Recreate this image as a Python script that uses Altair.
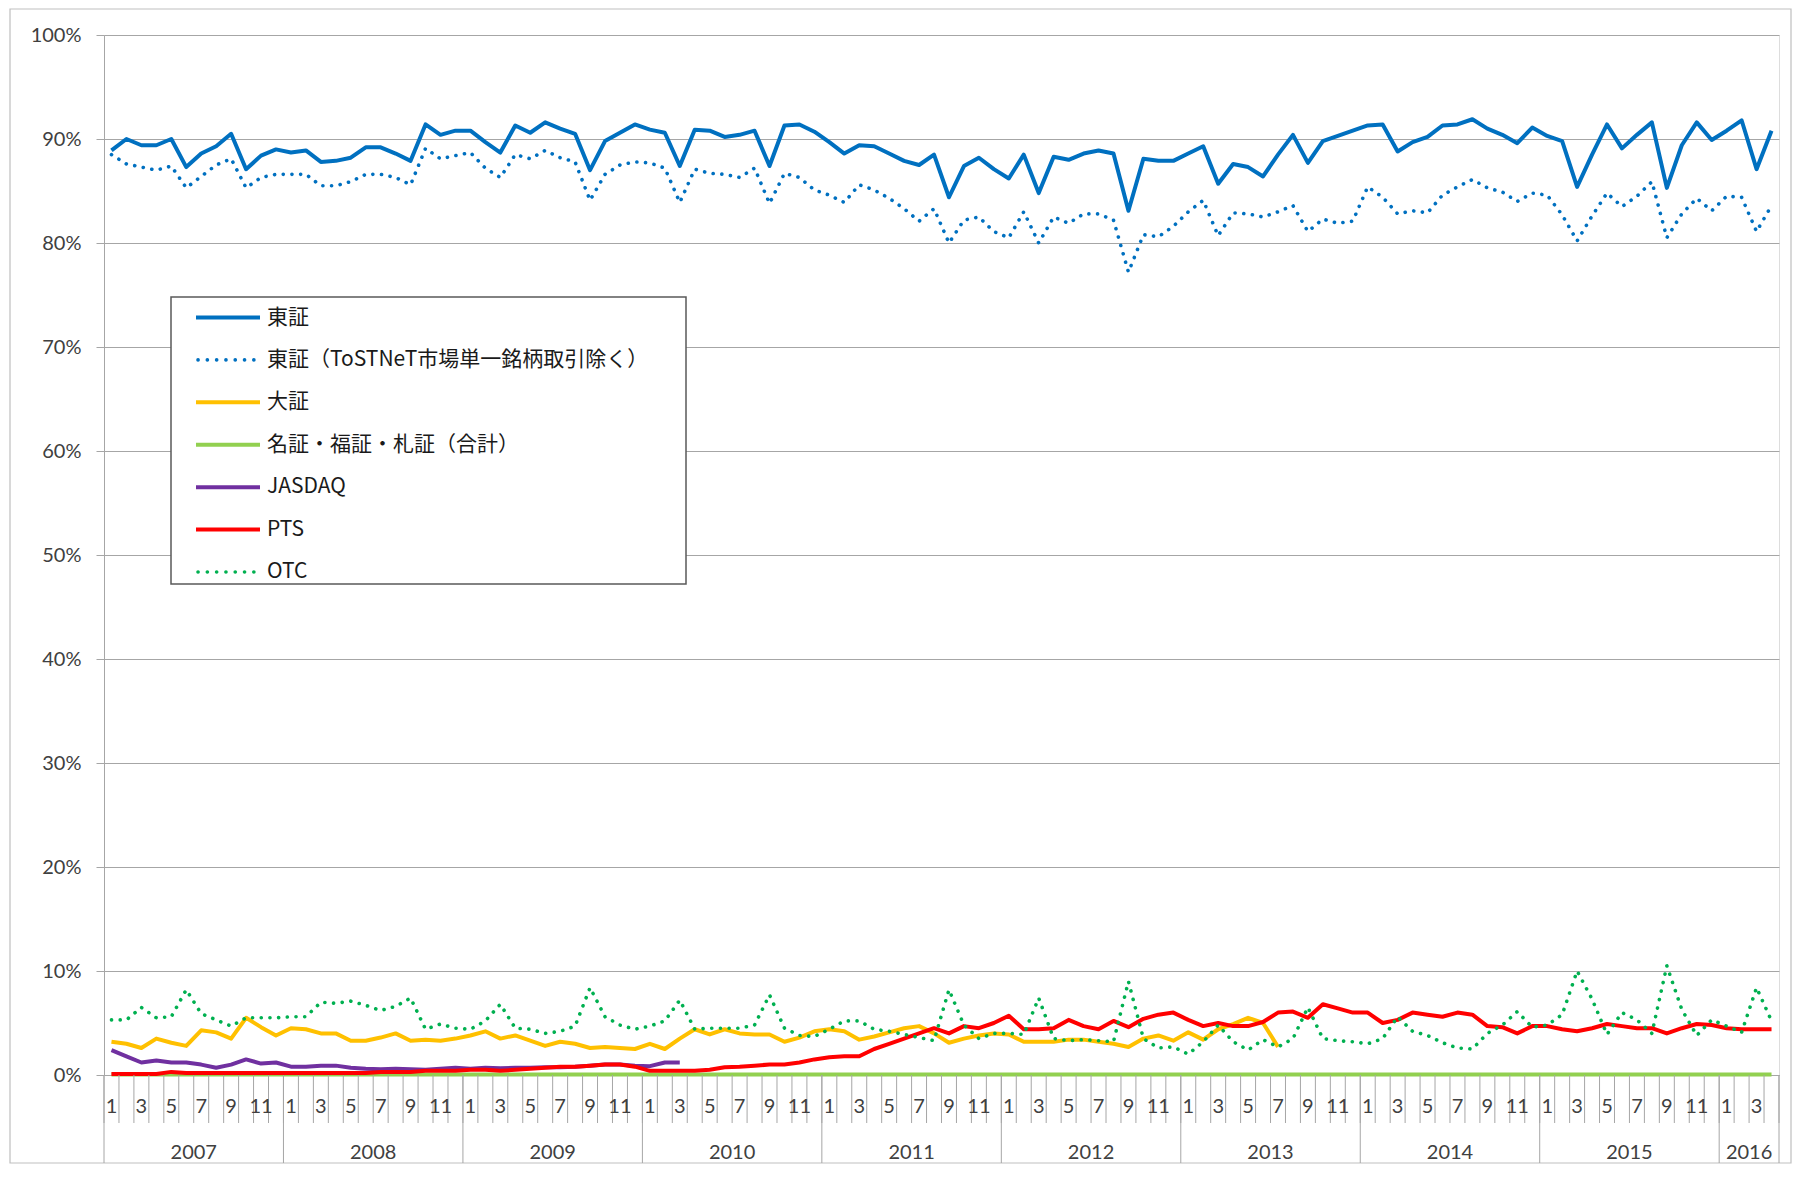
import altair as alt
import pandas as pd

# ---------------- data ----------------
years = [2007, 2008, 2009, 2010, 2011, 2012, 2013, 2014, 2015, 2016]
months_per_year = [12, 12, 12, 12, 12, 12, 12, 12, 12, 4]

series_names = [
    "東証",
    "東証（ToSTNeT市場単一銘柄取引除く）",
    "大証",
    "名証・福証・札証（合計）",
    "JASDAQ",
    "PTS",
    "OTC",
]
series_colors = ["#0070C0", "#0070C0", "#FFC000", "#92D050", "#7030A0", "#FF0000", "#00B050"]
dotted_series = ["東証（ToSTNeT市場単一銘柄取引除く）", "OTC"]

tse = [
    88.9, 90.0, 89.4, 89.4, 90.0, 87.3, 88.6, 89.3, 90.5, 87.1, 88.4, 89.0,
    88.7, 88.9, 87.8, 87.9, 88.2, 89.2, 89.2, 88.6, 87.9, 91.4, 90.4, 90.8,
    90.8, 89.7, 88.7, 91.3, 90.6, 91.6, 91.0, 90.5, 87.0, 89.8, 90.6, 91.4,
    90.9, 90.6, 87.4, 90.9, 90.8, 90.2, 90.4, 90.8, 87.4, 91.3, 91.4, 90.7,
    89.7, 88.6, 89.4, 89.3, 88.6, 87.9, 87.5, 88.5, 84.4, 87.4, 88.2, 87.1,
    86.2, 88.5, 84.8, 88.3, 88.0, 88.6, 88.9, 88.6, 83.1, 88.1, 87.9, 87.9,
    88.6, 89.3, 85.7, 87.6, 87.3, 86.4, 88.5, 90.4, 87.7, 89.8, 90.3, 90.8,
    91.3, 91.4, 88.8, 89.7, 90.2, 91.3, 91.4, 91.9, 91.0, 90.4, 89.6, 91.1,
    90.3, 89.8, 85.4, 88.5, 91.4, 89.1, 90.4, 91.6, 85.3, 89.4, 91.6, 89.9,
    90.8, 91.8, 87.1, 90.8,
]
tse_ex = [
    88.5, 87.6, 87.3, 87.0, 87.4, 85.3, 86.4, 87.5, 88.1, 85.3, 86.3, 86.6,
    86.6, 86.6, 85.5, 85.5, 85.9, 86.6, 86.6, 86.3, 85.6, 89.1, 88.1, 88.4,
    88.7, 87.2, 86.3, 88.5, 88.1, 88.9, 88.2, 87.8, 84.1, 86.6, 87.5, 87.8,
    87.7, 87.2, 83.9, 87.1, 86.7, 86.6, 86.3, 87.2, 83.8, 86.7, 86.3, 85.1,
    84.6, 83.9, 85.6, 85.1, 84.3, 83.3, 82.1, 83.3, 80.0, 82.2, 82.5, 81.1,
    80.5, 83.0, 80.0, 82.5, 81.9, 82.8, 82.8, 82.2, 77.2, 80.8, 80.6, 81.6,
    83.0, 84.1, 80.7, 82.9, 82.8, 82.5, 83.0, 83.6, 81.1, 82.3, 81.9, 82.1,
    85.4, 84.4, 82.8, 83.1, 82.9, 84.6, 85.4, 86.1, 85.3, 84.9, 84.0, 84.8,
    84.6, 82.7, 80.2, 82.6, 84.8, 83.5, 84.5, 85.9, 80.5, 82.8, 84.3, 83.1,
    84.5, 84.4, 81.1, 83.6,
]
ose = [
    3.2, 3.0, 2.6, 3.5, 3.1, 2.8, 4.3, 4.1, 3.5, 5.5, 4.6, 3.8,
    4.5, 4.4, 4.0, 4.0, 3.3, 3.3, 3.6, 4.0, 3.3, 3.4, 3.3, 3.5,
    3.8, 4.2, 3.5, 3.8, 3.3, 2.8, 3.2, 3.0, 2.6, 2.7, 2.6, 2.5,
    3.0, 2.5, 3.5, 4.4, 3.9, 4.4, 4.0, 3.9, 3.9, 3.2, 3.6, 4.2,
    4.4, 4.2, 3.4, 3.7, 4.1, 4.5, 4.7, 4.0, 3.1, 3.5, 3.8, 4.0,
    3.9, 3.2, 3.2, 3.2, 3.4, 3.4, 3.2, 3.0, 2.7, 3.5, 3.8, 3.3,
    4.1, 3.4, 4.4, 4.9, 5.5, 5.0, 2.7,
]
regional = [
    0.05, 0.05, 0.05, 0.05, 0.05, 0.05, 0.05, 0.05, 0.05, 0.05, 0.05, 0.05,
    0.05, 0.05, 0.05, 0.05, 0.05, 0.05, 0.05, 0.05, 0.05, 0.05, 0.05, 0.05,
    0.05, 0.05, 0.05, 0.05, 0.05, 0.05, 0.05, 0.05, 0.05, 0.05, 0.05, 0.05,
    0.05, 0.05, 0.05, 0.05, 0.05, 0.05, 0.05, 0.05, 0.05, 0.05, 0.05, 0.05,
    0.05, 0.05, 0.05, 0.05, 0.05, 0.05, 0.05, 0.05, 0.05, 0.05, 0.05, 0.05,
    0.05, 0.05, 0.05, 0.05, 0.05, 0.05, 0.05, 0.05, 0.05, 0.05, 0.05, 0.05,
    0.05, 0.05, 0.05, 0.05, 0.05, 0.05, 0.05, 0.05, 0.05, 0.05, 0.05, 0.05,
    0.05, 0.05, 0.05, 0.05, 0.05, 0.05, 0.05, 0.05, 0.05, 0.05, 0.05, 0.05,
    0.05, 0.05, 0.05, 0.05, 0.05, 0.05, 0.05, 0.05, 0.05, 0.05, 0.05, 0.05,
    0.05, 0.05, 0.05, 0.05,
]
jasdaq = [
    2.4, 1.8, 1.2, 1.4, 1.2, 1.2, 1.0, 0.7, 1.0, 1.5, 1.1, 1.2,
    0.8, 0.8, 0.9, 0.9, 0.7, 0.6, 0.55, 0.6, 0.55, 0.5, 0.6, 0.7,
    0.6, 0.7, 0.65, 0.7, 0.7, 0.75, 0.75, 0.8, 0.9, 1.0, 1.0, 0.9,
    0.85, 1.2, 1.2,
]
pts = [
    0.1, 0.1, 0.1, 0.1, 0.3, 0.2, 0.2, 0.2, 0.2, 0.2, 0.2, 0.2,
    0.2, 0.2, 0.2, 0.2, 0.2, 0.2, 0.3, 0.3, 0.3, 0.4, 0.4, 0.4,
    0.5, 0.5, 0.4, 0.5, 0.6, 0.7, 0.8, 0.8, 0.9, 1.0, 1.0, 0.8,
    0.4, 0.4, 0.4, 0.4, 0.5, 0.75, 0.8, 0.9, 1.0, 1.0, 1.2, 1.5,
    1.7, 1.8, 1.8, 2.5, 3.0, 3.5, 4.0, 4.5, 4.0, 4.7, 4.5, 5.0,
    5.7, 4.4, 4.4, 4.5, 5.3, 4.7, 4.4, 5.2, 4.6, 5.4, 5.8, 6.0,
    5.3, 4.7, 5.0, 4.7, 4.7, 5.1, 6.0, 6.1, 5.5, 6.8, 6.4, 6.0,
    6.0, 5.0, 5.3, 6.0, 5.8, 5.6, 6.0, 5.8, 4.7, 4.6, 4.0, 4.7,
    4.7, 4.4, 4.2, 4.5, 4.9, 4.7, 4.5, 4.5, 4.0, 4.5, 4.9, 4.8,
    4.5, 4.4, 4.4, 4.4,
]
otc = [
    5.3, 5.3, 6.5, 5.5, 5.6, 8.2, 5.9, 5.3, 4.7, 5.5, 5.5, 5.5,
    5.6, 5.6, 7.0, 6.9, 7.1, 6.7, 6.2, 6.6, 7.4, 4.4, 4.9, 4.5,
    4.4, 5.2, 6.8, 4.5, 4.4, 4.0, 4.2, 4.7, 8.4, 5.6, 4.8, 4.4,
    4.7, 5.2, 7.2, 4.4, 4.5, 4.5, 4.5, 4.8, 7.7, 4.5, 3.8, 3.7,
    4.4, 5.2, 5.2, 4.4, 4.2, 3.9, 3.6, 3.3, 8.2, 4.8, 3.5, 4.0,
    4.0, 3.9, 7.4, 3.5, 3.3, 3.4, 3.3, 3.2, 9.0, 3.5, 2.6, 2.7,
    2.0, 3.2, 4.8, 3.2, 2.4, 3.4, 2.7, 3.5, 6.5, 3.5, 3.3, 3.2,
    3.0, 3.5, 5.6, 4.2, 3.8, 3.1, 2.6, 2.5, 4.0, 4.8, 6.1, 4.6,
    4.8, 5.8, 10.0, 7.3, 3.9, 6.0, 5.3, 4.0, 10.5, 6.3, 3.8, 5.3,
    4.7, 4.1, 8.4, 5.2,
]
series_values = [tse, tse_ex, ose, regional, jasdaq, pts, otc]

# ---------------- tables ----------------
cats = []  # (year, month) for each category
for y, n in zip(years, months_per_year):
    for m in range(1, n + 1):
        cats.append((y, m))
n_cats = len(cats)

rows = []
for name, vals in zip(series_names, series_values):
    for i, v in enumerate(vals):
        rows.append({"pos": i + 0.5, "series": name, "value": v})
df = pd.DataFrame(rows)

month_lab = pd.DataFrame(
    [{"pos": i + 0.5, "label": str(m)} for i, (y, m) in enumerate(cats) if m % 2 == 1]
)
bounds = pd.DataFrame({"b": list(range(n_cats + 1))})
year_starts = []
s = 0
for n in months_per_year:
    year_starts.append(s)
    s += n
year_bounds = pd.DataFrame({"b": year_starts + [n_cats]})
year_lab = pd.DataFrame(
    {"pos": [st + n / 2 for st, n in zip(year_starts, months_per_year)],
     "label": [str(y) for y in years]}
)
legend_df = pd.DataFrame({"series": series_names})
one = pd.DataFrame({"k": [0]})

# ---------------- styles ----------------
W, H = 1675, 1040
GRAY = "#A6A6A6"
TXT = "#404040"
cscale = alt.Scale(domain=series_names, range=series_colors)
xscale = alt.Scale(domain=[0, n_cats], nice=False, zero=False)
yscale = alt.Scale(domain=[0, 100], nice=False)
xaxis = alt.Axis(labels=False, ticks=False, grid=False, domain=True,
                 domainColor=GRAY, title=None)
yaxis = alt.Axis(values=list(range(0, 101, 10)), labelExpr="datum.value + '%'",
                 grid=True, gridColor=GRAY, gridWidth=1, tickSize=8,
                 tickColor=GRAY, domainColor=GRAY, labelFont="Lato",
                 labelFontSize=20, labelColor=TXT, labelPadding=15, title=None)


def X(field):
    return alt.X(field, scale=xscale, axis=xaxis)


def Y():
    return alt.Y("value:Q", scale=yscale, axis=yaxis)


# border of the whole chart (decoration, no fill so axes stay visible)
border = alt.Chart(one).mark_rect(fill="transparent", stroke="#BFBFBF", strokeWidth=1.2).encode(
    x=alt.value(-94), x2=alt.value(1687), y=alt.value(-26), y2=alt.value(1128)
)

line_layers = []
for name in series_names:
    if name in dotted_series:
        mk = alt.Chart(df).mark_line(strokeWidth=3.6, strokeDash=[0.1, 8.6],
                                     strokeCap="round", strokeJoin="round")
    else:
        mk = alt.Chart(df).mark_line(strokeWidth=4, strokeJoin="round")
    line_layers.append(
        mk.transform_filter(alt.FieldEqualPredicate(field="series", equal=name)).encode(
            x=X("pos:Q"), y=Y(),
            color=alt.Color("series:N", scale=cscale, legend=None),
        )
    )

ticks = alt.Chart(bounds).mark_rule(color=GRAY, strokeWidth=1).encode(
    x=X("b:Q"), y=alt.value(H), y2=alt.value(H + 48)
)
year_ticks = alt.Chart(year_bounds).mark_rule(color=GRAY, strokeWidth=1).encode(
    x=X("b:Q"), y=alt.value(H), y2=alt.value(H + 88)
)
mtext = alt.Chart(month_lab).mark_text(font="Lato", fontSize=20, color=TXT,
                                        baseline="middle").encode(
    x=X("pos:Q"), y=alt.value(H + 32), text="label:N"
)
ytext = alt.Chart(year_lab).mark_text(font="Lato", fontSize=20, color=TXT,
                                       baseline="middle").encode(
    x=X("pos:Q"), y=alt.value(H + 78), text="label:N"
)

main = alt.layer(border, *line_layers, ticks, year_ticks, mtext, ytext)

# ---------------- legend ----------------
ly = alt.Y("series:N", sort=series_names, axis=None,
           scale=alt.Scale(type="point", range=[282.5, 537], padding=0))
box = alt.Chart(one).mark_rect(fill="white", stroke="#595959", strokeWidth=1.5).encode(
    x=alt.value(67), x2=alt.value(582), y=alt.value(262), y2=alt.value(549)
)
leg_solid = alt.Chart(legend_df).transform_filter(
    alt.FieldOneOfPredicate(field="series", oneOf=[s for s in series_names if s not in dotted_series])
).mark_rule(strokeWidth=4).encode(
    y=ly, x=alt.value(92), x2=alt.value(156),
    color=alt.Color("series:N", scale=cscale, legend=None),
)
leg_dot = alt.Chart(legend_df).transform_filter(
    alt.FieldOneOfPredicate(field="series", oneOf=dotted_series)
).mark_rule(strokeWidth=3.6, strokeDash=[0.1, 9.2], strokeCap="round").encode(
    y=ly, x=alt.value(94), x2=alt.value(156),
    color=alt.Color("series:N", scale=cscale, legend=None),
)
leg_text = alt.Chart(legend_df).mark_text(font="Noto Sans CJK JP", fontSize=21,
                                           color="#1a1a1a", align="left",
                                           baseline="middle").encode(
    y=ly, x=alt.value(163), text="series:N"
)
legend = alt.layer(box, leg_solid, leg_dot, leg_text)

chart = alt.layer(main, legend).resolve_scale(y="independent").properties(
    width=W, height=H,
    padding={"left": 96, "top": 27, "right": 14, "bottom": 90},
    autosize=alt.AutoSizeParams(type="none"),
).configure_view(stroke=None).configure(background="white")

chart.save("out.html", embed_options={"renderer": "svg", "actions": False})
